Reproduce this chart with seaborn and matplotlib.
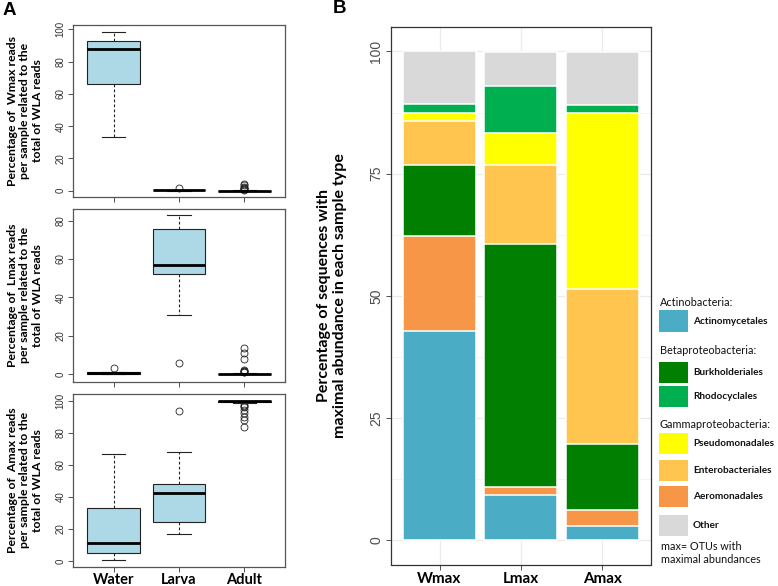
import numpy as np
import pandas as pd
import matplotlib
matplotlib.use("Agg")
import matplotlib.pyplot as plt
import seaborn as sns
from matplotlib.patches import Rectangle

# ---------------- Panel A data (boxplot summaries) ----------------
groups = ["Water", "Larva", "Adult"]

# each entry: [whisker low, Q1, median, Q3, whisker high]
wmax_stats = [[33.0, 66.0, 88.0, 93.0, 98.5],
              [0.0, 0.2, 0.3, 0.4, 0.6],
              [0.0, 0.0, 0.0, 0.1, 0.2]]
wmax_fliers = [[], [1.4], [0.6, 0.9, 1.2, 1.5, 1.8, 2.5, 3.3, 4.0]]

lmax_stats = [[0.0, 0.2, 0.5, 0.8, 1.2],
              [31.0, 52.0, 57.0, 75.5, 83.0],
              [0.0, 0.0, 0.0, 0.2, 0.5]]
lmax_fliers = [[3.0], [6.0], [0.8, 1.1, 1.4, 1.8, 2.2, 7.7, 10.8, 13.4]]

amax_stats = [[0.8, 4.8, 11.0, 33.3, 66.7],
              [17.0, 24.2, 42.3, 48.1, 68.0],
              [98.3, 99.0, 100.0, 100.0, 100.0]]
amax_fliers = [[], [93.8], [97.6, 96.8, 95.8, 94.5, 92.3, 90.0, 88.1, 83.8]]

wmax_label = "Percentage of  Wmax reads\nper sample related to the\ntotal of WLA reads"
lmax_label = "Percentage of  Lmax reads\nper sample related to the\ntotal of WLA reads"
amax_label = "Percentage of  Amax reads\nper sample related to the\ntotal of WLA reads"

# ---------------- Panel B data (stacked percentages) ----------------
samples = ["Wmax", "Lmax", "Amax"]
actinomycetales = [42.8, 9.2, 2.9]
aeromonadales = [19.5, 1.7, 3.2]
burkholderiales = [14.5, 49.7, 13.6]
enterobacteriales = [9.0, 16.2, 31.7]
pseudomonadales = [1.7, 6.6, 35.9]
rhodocyclales = [1.7, 9.6, 1.8]
other = [10.8, 6.8, 10.7]

order_names = ["Actinomycetales", "Aeromonadales", "Burkholderiales",
               "Enterobacteriales", "Pseudomonadales", "Rhodocyclales", "Other"]
order_values = [actinomycetales, aeromonadales, burkholderiales,
                enterobacteriales, pseudomonadales, rhodocyclales, other]
order_colors = {"Actinomycetales": "#4bacc6", "Aeromonadales": "#f79646",
                "Burkholderiales": "#007f00", "Enterobacteriales": "#ffc54f",
                "Pseudomonadales": "#ffff00", "Rhodocyclales": "#00b050",
                "Other": "#d9d9d9"}

# ---------------- Figure ----------------
W, H = 778, 586
fig = plt.figure(figsize=(W / 100, H / 100), dpi=100)
LAB = "Lato"
TICK = "Liberation Sans"


def fx(x):
    return x / W


def fy(y):
    return 1 - y / H


def axes_px(x0, y0, x1, y1):
    return fig.add_axes([fx(x0), fy(y1), (x1 - x0) / W, (y1 - y0) / H])


def draw_box(ax, stats, fliers, ylim, yticks, show_x):
    st = []
    for g, s, f in zip(groups, stats, fliers):
        st.append(dict(label=g, whislo=s[0], q1=s[1], med=s[2], q3=s[3],
                       whishi=s[4], fliers=f))
    ec = "#222222"
    ax.bxp(st, positions=[1, 2, 3], widths=0.8, capwidths=0.36, patch_artist=True,
           boxprops=dict(facecolor="#add8e6", edgecolor=ec, linewidth=0.8),
           medianprops=dict(color="black", linewidth=2.0, solid_capstyle="butt"),
           whiskerprops=dict(color=ec, linestyle=(0, (2.5, 2)), linewidth=0.8),
           capprops=dict(color=ec, linewidth=0.8),
           flierprops=dict(marker="o", markerfacecolor="none", markeredgecolor=ec,
                           markersize=5, markeredgewidth=0.6))
    ax.set_xlim(0.38, 3.62)
    ax.set_ylim(*ylim)
    ax.set_yticks(yticks)
    ax.set_xticks([1, 2, 3])
    for sp in ax.spines.values():
        sp.set_color("#555555")
        sp.set_linewidth(0.9)
    ax.tick_params(axis="both", direction="out", length=3.5, width=0.6, color="#333333")
    ax.tick_params(axis="y", labelrotation=90, labelsize=7, pad=2)
    for t in ax.get_yticklabels():
        t.set_fontfamily(TICK)
        t.set_va("center")
        t.set_color("#333333")
    if show_x:
        ax.set_xticklabels(groups, fontfamily=LAB, fontweight="bold", fontsize=10.5)
        ax.tick_params(axis="x", pad=1)
    else:
        ax.set_xticklabels([])
    ax.set_xlabel("")
    ax.set_ylabel("")


axW = axes_px(73, 25, 285, 197)
draw_box(axW, wmax_stats, wmax_fliers, (-3.9, 102.7), [0, 20, 40, 60, 80, 100], False)
axL = axes_px(73, 209, 285, 381.7)
draw_box(axL, lmax_stats, lmax_fliers, (-4.0, 86.1), [0, 20, 40, 60, 80], False)
axA = axes_px(73, 394, 285, 566.7)
draw_box(axA, amax_stats, amax_fliers, (-3.5, 104.2), [0, 20, 40, 60, 80, 100], True)

for lab, (y0, y1) in zip([wmax_label, lmax_label, amax_label],
                         [(25, 197), (209, 381.7), (394, 566.7)]):
    fig.text(fx(25), fy((y0 + y1) / 2), lab, rotation=90, ha="center", va="center",
             fontfamily=LAB, fontweight="bold", fontsize=8.8, linespacing=1.12,
             multialignment="center")

fig.text(fx(3), fy(2), "A", ha="left", va="top", fontfamily=TICK,
         fontweight="bold", fontsize=13.5)
fig.text(fx(333), fy(0), "B", ha="left", va="top", fontfamily=TICK,
         fontweight="bold", fontsize=13.5)

# ---------------- Panel B ----------------
axB = axes_px(390.7, 27, 651, 564.5)
axB.set_axisbelow(True)
cum = np.zeros(len(samples))
layers = []
for name, vals in zip(order_names, order_values):
    cum = cum + np.array(vals, dtype=float)
    layers.append((name, cum.copy()))
for name, c in reversed(layers):
    d = pd.DataFrame({"sample": samples, "pct": c})
    sns.barplot(data=d, x="sample", y="pct", order=samples, color=order_colors[name],
                saturation=1, width=0.9, edgecolor="white", linewidth=1.1,
                errorbar=None, ax=axB, zorder=3)

axB.set_xlim(-0.6, 2.6)
axB.set_ylim(-5, 105)
axB.set_yticks([0, 25, 50, 75, 100])
axB.set_yticks([12.5, 37.5, 62.5, 87.5], minor=True)
axB.grid(which="major", color="#ebebeb", linewidth=0.9, zorder=0)
axB.grid(which="minor", axis="y", color="#f3f3f3", linewidth=0.6, zorder=0)
axB.tick_params(axis="both", which="major", direction="out", length=3.5, width=0.6,
                color="#333333")
axB.tick_params(axis="y", which="minor", length=0)
axB.tick_params(axis="y", labelrotation=90, labelsize=10, pad=2)
for t in axB.get_yticklabels():
    t.set_fontfamily(TICK)
    t.set_va("center")
    t.set_color("#4d4d4d")
axB.set_xticks([0, 1, 2])
axB.set_xticklabels(samples, fontfamily=LAB, fontweight="bold", fontsize=11)
axB.tick_params(axis="x", pad=2)
for sp in axB.spines.values():
    sp.set_color("#333333")
    sp.set_linewidth(0.9)
axB.set_xlabel("")
axB.set_ylabel("")
fig.text(fx(332), fy(296),
         "Percentage of sequences with\nmaximal abundance in each sample type",
         rotation=90, ha="center", va="center", fontfamily=LAB, fontweight="bold",
         fontsize=11.5, linespacing=1.15, multialignment="center")

# ---------------- Legend ----------------
legend_titles = [("Actinobacteria:", 302), ("Betaproteobacteria:", 350),
                 ("Gammaproteobacteria:", 424)]
legend_rows = [("Actinomycetales", 310, 332), ("Burkholderiales", 362, 383),
               ("Rhodocyclales", 386, 407), ("Pseudomonadales", 433, 454),
               ("Enterobacteriales", 460, 481), ("Aeromonadales", 486, 507),
               ("Other", 515, 536)]
for txt, y in legend_titles:
    fig.text(fx(660), fy(y), txt, ha="left", va="center", fontfamily=LAB,
             fontsize=7.8, color="#111111")
for name, y0, y1 in legend_rows:
    r = Rectangle((fx(659), fy(y1)), 29 / W, (y1 - y0) / H, transform=fig.transFigure,
                  facecolor=order_colors[name], edgecolor="none")
    fig.add_artist(r)
    fig.text(fx(693), fy((y0 + y1) / 2), name, ha="left", va="center",
             fontfamily=LAB, fontweight="bold", fontsize=7.2, color="#111111")
fig.text(fx(661), fy(547), "max= OTUs with", ha="left", va="center",
         fontfamily=LAB, fontsize=7.8, color="#111111")
fig.text(fx(661), fy(559.5), "maximal abundances", ha="left", va="center",
         fontfamily=LAB, fontsize=7.8, color="#111111")

fig.savefig("out.png", dpi=100)
